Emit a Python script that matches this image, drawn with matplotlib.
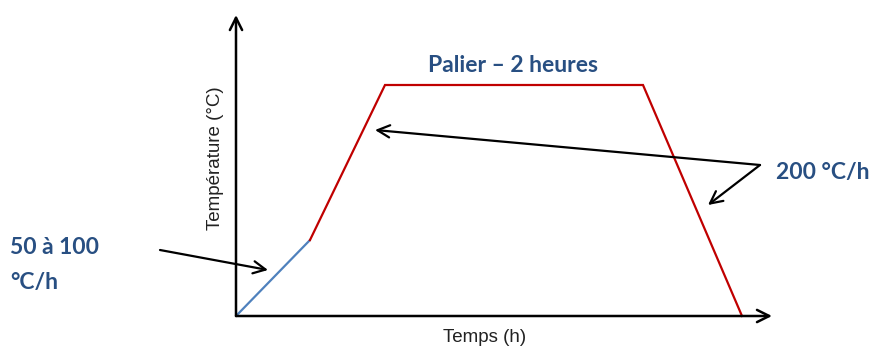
import matplotlib.pyplot as plt

# profil de cuisson : (temps, température) en unités schématiques
montee_lente_t = [0, 74]
montee_lente_T = [0, 76]
cycle_t = [74, 149, 407, 506]
cycle_T = [76, 231, 231, 0]

bleu_titre = '#284F82'

fig = plt.figure(figsize=(8.7, 3.48), dpi=100)
ax = fig.add_axes([0, 0, 1, 1])
ax.set_xlim(-236, 634)
ax.set_ylim(-32, 316)
ax.axis('off')

# axes avec flèches ouvertes
fleche = dict(arrowstyle='->', color='black', lw=1.8, mutation_scale=22, shrinkA=0, shrinkB=0)
ax.annotate('', xy=(0, 301), xytext=(0, 0), arrowprops=fleche)
ax.annotate('', xy=(536, 0), xytext=(0, 0), arrowprops=fleche)

ax.plot(montee_lente_t, montee_lente_T, color='#4F81BD', lw=1.6, solid_capstyle='round')
ax.plot(cycle_t, cycle_T, color='#C00000', lw=1.6, solid_joinstyle='miter')

ax.text(-21, 158, 'Température (°C)', rotation=90, ha='center', va='center',
        family='Liberation Sans', fontsize=13.5, color='#222222')
ax.text(249, -21, 'Temps (h)', ha='center', va='center',
        family='Liberation Sans', fontsize=13.5, color='#222222')

gras = dict(family='Lato', fontweight='bold', fontsize=16.5, color=bleu_titre)
ax.text(277, 251, 'Palier – 2 heures', ha='center', va='center', **gras)
ax.text(540, 144, '200 °C/h', ha='left', va='center', **gras)
ax.text(-226, 68, '50 à 100', ha='left', va='center', **gras)
ax.text(-226, 34, '°C/h', ha='left', va='center', **gras)

# flèches d'annotation
fl = dict(arrowstyle='->', color='black', lw=1.6, mutation_scale=22, shrinkA=0, shrinkB=0)
ax.annotate('', xy=(139, 186), xytext=(524, 151), arrowprops=fl)
ax.annotate('', xy=(472, 111), xytext=(524, 151), arrowprops=fl)
ax.annotate('', xy=(32, 46), xytext=(-76, 66), arrowprops=fl)

fig.savefig('out.png', dpi=100)
